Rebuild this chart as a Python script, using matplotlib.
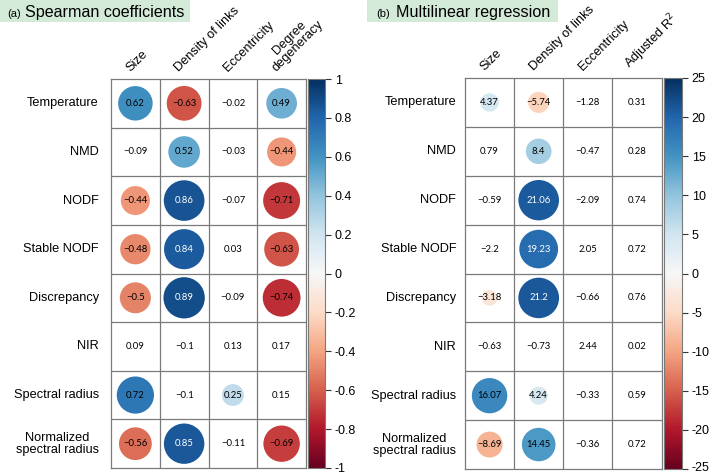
import numpy as np
import matplotlib
matplotlib.use("Agg")
import matplotlib.pyplot as plt
from matplotlib.patches import Ellipse, Rectangle
from matplotlib.cm import ScalarMappable
from matplotlib.colors import Normalize
from matplotlib.transforms import ScaledTranslation

rows = ["Temperature", "NMD", "NODF", "Stable NODF", "Discrepancy", "NIR",
        "Spectral radius", "Normalized\nspectral radius"]

cols_a = ["Size", "Density of links", "Eccentricity", "Degree\ndegeneracy"]
vals_a = [
    [0.62, -0.63, -0.02, 0.49],
    [-0.09, 0.52, -0.03, -0.44],
    [-0.44, 0.86, -0.07, -0.71],
    [-0.48, 0.84, 0.03, -0.63],
    [-0.5, 0.89, -0.09, -0.74],
    [0.09, -0.1, 0.13, 0.17],
    [0.72, -0.1, 0.25, 0.15],
    [-0.56, 0.85, -0.11, -0.69],
]
sig_a = [
    [1, 1, 0, 1],
    [0, 1, 0, 1],
    [1, 1, 0, 1],
    [1, 1, 0, 1],
    [1, 1, 0, 1],
    [0, 0, 0, 0],
    [1, 0, 1, 0],
    [1, 1, 0, 1],
]
ticks_a = [1, 0.8, 0.6, 0.4, 0.2, 0, -0.2, -0.4, -0.6, -0.8, -1]

cols_b = ["Size", "Density of links", "Eccentricity", "Adjusted R$^{2}$"]
vals_b = [
    [4.37, -5.74, -1.28, 0.31],
    [0.79, 8.4, -0.47, 0.28],
    [-0.59, 21.06, -2.09, 0.74],
    [-2.2, 19.23, 2.05, 0.72],
    [-3.18, 21.2, -0.66, 0.76],
    [-0.63, -0.73, 2.44, 0.02],
    [16.07, 4.24, -0.33, 0.59],
    [-8.69, 14.45, -0.36, 0.72],
]
sig_b = [
    [1, 1, 0, 0],
    [0, 1, 0, 0],
    [0, 1, 0, 0],
    [0, 1, 0, 0],
    [1, 1, 0, 0],
    [0, 0, 0, 0],
    [1, 1, 0, 0],
    [1, 1, 0, 0],
]
ticks_b = [25, 20, 15, 10, 5, 0, -5, -10, -15, -20, -25]

W, H = 709, 474
fig = plt.figure(figsize=(W / 100, H / 100), dpi=100)
LAB = ["Liberation Sans", "DejaVu Sans"]
NUM = ["Lato", "DejaVu Sans"]
GRID = "#7a7a7a"
cmap = plt.get_cmap("RdBu")


def px_axes(x0, y0, x1, y1):
    return fig.add_axes([x0 / W, 1 - y1 / H, (x1 - x0) / W, (y1 - y0) / H])


def panel(box, cbox, vals, sig, cols, vmax, ticks, row_pad):
    vals = np.array(vals, dtype=float)
    sig = np.array(sig, dtype=bool)
    nr, nc = vals.shape
    ax = px_axes(*box)
    ax.set_xlim(0, nc)
    ax.set_ylim(nr, 0)
    ax.set_xticks([])
    ax.set_yticks([])
    for s in ax.spines.values():
        s.set_color(GRID)
        s.set_linewidth(0.9)
    for i in range(1, nr):
        ax.axhline(i, color=GRID, lw=0.9)
    for j in range(1, nc):
        ax.axvline(j, color=GRID, lw=0.9)
    norm = Normalize(-vmax, vmax)
    for i in range(nr):
        for j in range(nc):
            v = vals[i, j]
            if sig[i, j]:
                r = 0.45 * np.sqrt(abs(v) / vmax)
                ax.add_patch(Ellipse((j + 0.5, i + 0.5), 2 * r, 2 * r,
                                     facecolor=cmap(norm(v)), edgecolor="none"))
            col = "white" if (sig[i, j] and abs(v) / vmax > 0.75) else "black"
            ax.text(j + 0.5, i + 0.5, f"{v:g}".replace("-", "\u2212"),
                    ha="center", va="center", fontsize=6.8, color=col,
                    family=NUM)
    for i, lab in enumerate(rows):
        ax.text(-row_pad, i + 0.5, lab, ha="right", va="center",
                fontsize=9.2, family=LAB, multialignment="center",
                linespacing=1.0)
    for j, lab in enumerate(cols):
        ax.text(j + 0.44, -0.1, lab, ha="left", va="bottom", rotation=45,
                rotation_mode="anchor", fontsize=9.2, family=LAB,
                multialignment="center", linespacing=1.0)
    cax = px_axes(*cbox)
    sm = ScalarMappable(norm=norm, cmap=cmap)
    cb = fig.colorbar(sm, cax=cax, ticks=ticks)
    cb.outline.set_edgecolor(GRID)
    cb.outline.set_linewidth(0.8)
    cb.set_ticklabels([f"{t:g}" for t in ticks])
    cax.tick_params(length=4, width=0.8, pad=3, labelsize=9, color="#333")
    labels = cax.get_yticklabels()
    for t in labels:
        t.set_family(LAB)
    return ax, cax


panel((111, 79, 306, 468), (308, 79, 325, 468), vals_a, sig_a, cols_a,
      1.0, ticks_a, 0.25)
ax_b, cax_b = panel((465, 78, 661.5, 469), (664, 78, 682, 469), vals_b, sig_b,
                    cols_b, 25.0, ticks_b, 0.18)
fig.canvas.draw()
lowest = min(cax_b.get_yticklabels(), key=lambda t: t.get_position()[1])
lowest.set_transform(lowest.get_transform() +
                     ScaledTranslation(0, 2 / 72, fig.dpi_scale_trans))

green = "#d3ead8"
for (x0, x1, tag, title, tx) in [(0, 190, "(a)", "Spearman coefficients", 25),
                                 (367, 558, "(b)", "Multilinear regression", 396)]:
    fig.patches.append(Rectangle((x0 / W, 1 - 22 / H), (x1 - x0) / W, 22 / H,
                                 transform=fig.transFigure, facecolor=green,
                                 edgecolor="none"))
    fig.text((tx - 18 if tag == "(a)" else tx - 20) / W, 1 - 17 / H, tag,
             fontsize=8, family=LAB, va="baseline", ha="left")
    fig.text(tx / W, 1 - 17 / H, title, fontsize=11.6, family=LAB,
             va="baseline", ha="left")

fig.savefig("out.png", dpi=100)
